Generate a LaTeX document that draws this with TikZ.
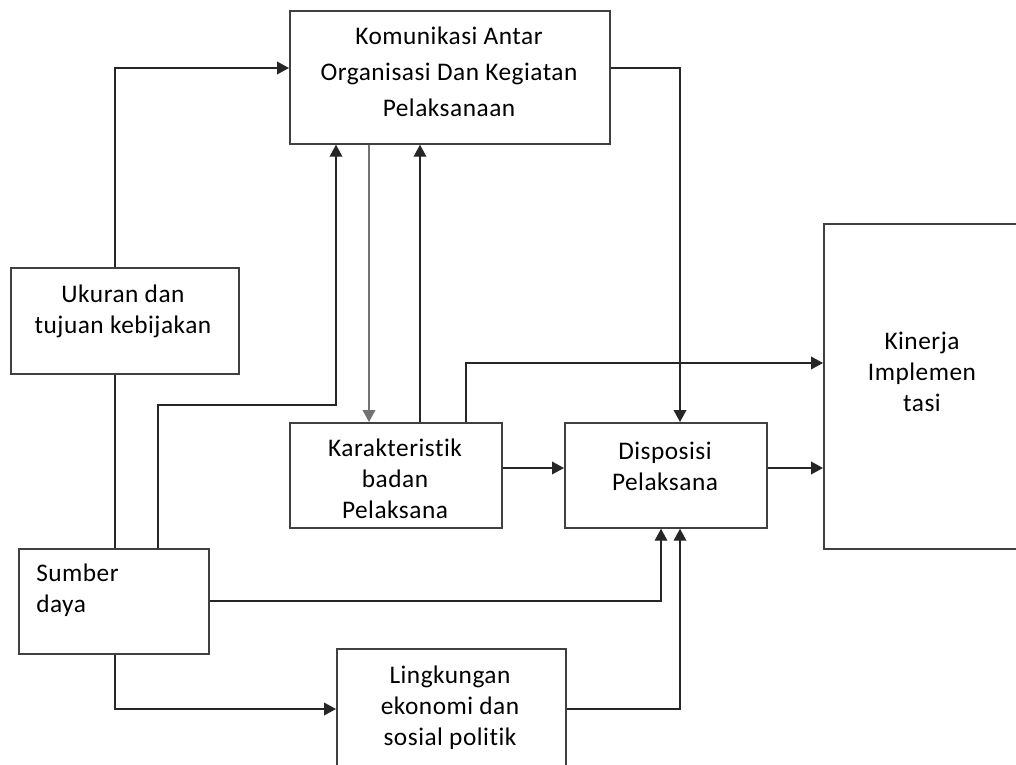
\documentclass[tikz,border=0pt]{standalone}
\usepackage{fontspec}
\setmainfont{Carlito}[LetterSpace=2, Ligatures={NoCommon, NoRare}]
\usetikzlibrary{arrows.meta}

\begin{document}
\begin{tikzpicture}[x=0.75pt,y=-0.75pt,
	box/.style={draw=black!75, line width=1.3pt, inner sep=0pt, anchor=north west},
	txt/.style={inner sep=0pt, align=center, font=\fontsize{19}{23.25}\selectfont},
	conn/.style={draw=black!85, line width=1.1pt},
	arr/.style={conn, -{Triangle[length=9pt,width=9.5pt]}}]
				\useasboundingbox (0,0) rectangle (1016,764);
				\clip (0,0) rectangle (1016,764);
				% boxes
				\node[box, minimum width=240pt, minimum height=99.75pt] (kom) at (289,10) {};
				\node[box, minimum width=171pt, minimum height=79.5pt] (uku) at (10,267) {};
				\node[box, minimum width=142.5pt, minimum height=78.75pt] (sum) at (18,548) {};
				\node[box, minimum width=159pt, minimum height=78.75pt] (kar) at (289,422) {};
				\node[box, minimum width=151.5pt, minimum height=78.75pt] (dis) at (564,422) {};
				\node[box, minimum width=148.5pt, minimum height=243.75pt] (kin) at (823,223) {};
				\node[box, minimum width=171.75pt, minimum height=90pt] (lin) at (336,648) {};
				% texts
				\node[txt, anchor=north, font=\fontsize{19}{27}\selectfont] (komtxt) at (449,27) {Komunikasi Antar\\Organisasi Dan Kegiatan\\Pelaksanaan};
				\node[txt, anchor=north] (ukutxt) at (123,285) {Ukuran dan\\tujuan kebijakan};
				\node[txt, anchor=north west, align=left] (sumtxt) at (36,564) {Sumber\\daya};
				\node[txt, anchor=north] (kartxt) at (395,439) {Karakteristik\\badan\\Pelaksana};
				\node[txt, anchor=north] (distxt) at (665,442) {Disposisi\\Pelaksana};
				\node[txt, anchor=north] (kintxt) at (922,332) {Kinerja\\Implemen\\tasi};
				\node[txt, anchor=north] (lintxt) at (450,666) {Lingkungan\\ekonomi dan\\sosial politik};
				% connectors
				\draw[arr] (uku.north -| 115,0) |- (kom.west |- 0,68);
				\draw[arr] (kom.east |- 0,68) -| (dis.north -| 680,0);
				\draw[conn] (uku.south -| 115,0) -- (sum.north -| 115,0);
				\draw[arr] (sum.north -| 158,0) |- (336,405) -- (kom.south -| 336,0);
				\draw[arr, draw=black!55] (kom.south -| 369,0) -- (kar.north -| 369,0);
				\draw[arr] (kar.north -| 420,0) -- (kom.south -| 420,0);
				\draw[arr] (kar.north -| 466,0) |- (kin.west |- 0,363);
				\draw[arr] (kar.east |- 0,468) -- (dis.west |- 0,468);
				\draw[arr] (dis.east |- 0,468) -- (kin.west |- 0,468);
				\draw[arr] (sum.east |- 0,601) -| (dis.south -| 661,0);
				\draw[arr] (sum.south -| 115,0) |- (lin.west |- 0,709);
				\draw[arr] (lin.east |- 0,709) -| (dis.south -| 680,0);
			\end{tikzpicture}
\end{document}
